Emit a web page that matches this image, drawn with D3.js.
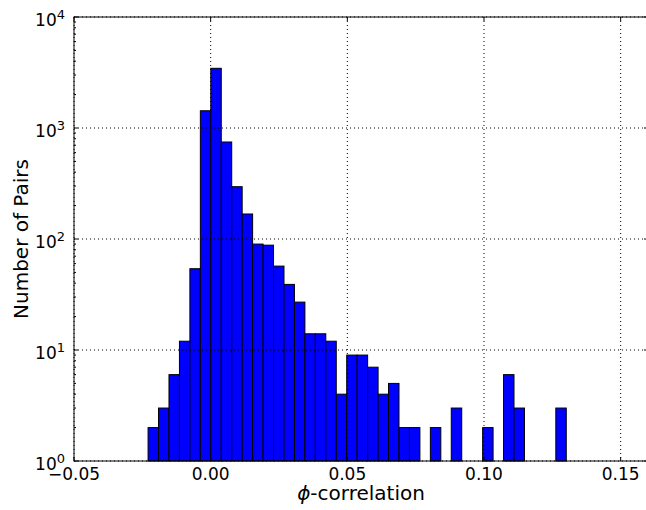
<!DOCTYPE html>
<html>
<head>
<meta charset="utf-8">
<script src="https://cdn.jsdelivr.net/npm/d3@7/dist/d3.min.js"></script>
<style>
  body { margin: 0; background: #fff; }
  text { font-family: "DejaVu Sans", sans-serif; fill: #000; }
</style>
</head>
<body>
<div class="graphContainer"></div>
<script>
// Histogram data: 40 bins between binMin and binMax, counts
const binMin = -0.0229;
const binMax = 0.1301;
const counts = [2, 3, 6, 12, 54, 1430, 3450, 748, 296, 168,
                90, 88, 57, 39, 27, 14, 14, 12, 4, 9,
                9, 7, 4, 5, 2, 2, 0, 2, 0, 3,
                0, 0, 2, 0, 6, 3, 0, 0, 0, 3];
const xTicks = [-0.05, 0.00, 0.05, 0.10, 0.15];
const yExponents = [0, 1, 2, 3, 4];

//Set width, height and plot box
const w = 646;
const h = 510;
const pLeft = 74, pRight = 648, pTop = 17, pBottom = 461;

const svg = d3.select(".graphContainer").append("svg")
  .attr("width", w)
  .attr("height", h);

svg.append("rect").attr("width", w).attr("height", h).attr("fill", "#fff");

// Scales
const xScale = d3.scaleLinear().domain([-0.05, 0.16]).range([pLeft, pRight]);
const yScale = d3.scaleLog().domain([1, 1e4]).range([pBottom, pTop]);

// Bins
const step = (binMax - binMin) / counts.length;
const bins = counts.map((c, i) => ({ x0: binMin + i * step, x1: binMin + (i + 1) * step, n: c }));

svg.append("g")
  .selectAll("rect")
  .data(bins.filter(d => d.n > 0))
  .join("rect")
  .attr("x", d => xScale(d.x0))
  .attr("y", d => yScale(d.n))
  .attr("width", d => xScale(d.x1) - xScale(d.x0))
  .attr("height", d => yScale(1) - yScale(d.n))
  .attr("fill", "#0000ff")
  .attr("stroke", "#000")
  .attr("stroke-width", 1);

// Dotted grid drawn over the bars
const grid = svg.append("g")
  .attr("stroke", "#000")
  .attr("stroke-width", 1)
  .attr("stroke-dasharray", "1,3");

grid.selectAll(".gx")
  .data(xTicks)
  .join("line")
  .attr("x1", d => xScale(d)).attr("x2", d => xScale(d))
  .attr("y1", pTop).attr("y2", pBottom);

grid.selectAll(".gy")
  .data(yExponents.map(e => Math.pow(10, e)))
  .join("line")
  .attr("x1", pLeft).attr("x2", pRight)
  .attr("y1", d => yScale(d)).attr("y2", d => yScale(d));

// Frame
svg.append("rect")
  .attr("x", pLeft).attr("y", pTop)
  .attr("width", pRight - pLeft).attr("height", pBottom - pTop)
  .attr("fill", "none")
  .attr("stroke", "#000")
  .attr("stroke-width", 1);

// Ticks (inward, all four sides)
const ticks = svg.append("g").attr("stroke", "#000").attr("stroke-width", 1);
xTicks.forEach(t => {
  const x = xScale(t);
  ticks.append("line").attr("x1", x).attr("x2", x).attr("y1", pBottom).attr("y2", pBottom - 4);
  ticks.append("line").attr("x1", x).attr("x2", x).attr("y1", pTop).attr("y2", pTop + 4);
});
yExponents.forEach(e => {
  const y = yScale(Math.pow(10, e));
  ticks.append("line").attr("x1", pLeft).attr("x2", pLeft + 4).attr("y1", y).attr("y2", y);
  ticks.append("line").attr("x1", pRight).attr("x2", pRight - 4).attr("y1", y).attr("y2", y);
  if (e < 4) {
    d3.range(2, 10).forEach(k => {
      const ym = yScale(k * Math.pow(10, e));
      ticks.append("line").attr("x1", pLeft).attr("x2", pLeft + 2).attr("y1", ym).attr("y2", ym);
      ticks.append("line").attr("x1", pRight).attr("x2", pRight - 2).attr("y1", ym).attr("y2", ym);
    });
  }
});

// Tick labels
const fmt = d3.format(".2f");
svg.append("g")
  .selectAll("text")
  .data(xTicks)
  .join("text")
  .attr("x", d => xScale(d))
  .attr("y", pBottom + 19)
  .attr("text-anchor", "middle")
  .style("font-size", "17px")
  .text(d => fmt(d).replace("-", "\u2212"));

const yl = svg.append("g")
  .selectAll("text")
  .data(yExponents)
  .join("text")
  .attr("x", pLeft - 9)
  .attr("y", d => yScale(Math.pow(10, d)) + 9)
  .attr("text-anchor", "end")
  .style("font-size", "17px");
yl.append("tspan").text("10");
yl.append("tspan")
  .attr("dy", -7)
  .style("font-size", "13px")
  .text(d => d);

// Axis labels
svg.append("text")
  .attr("x", (pLeft + pRight) / 2)
  .attr("y", 500)
  .attr("text-anchor", "middle")
  .style("font-size", "20px")
  .html('<tspan font-style="italic">\u03d5</tspan>-correlation');

svg.append("text")
  .attr("transform", "translate(28," + ((pTop + pBottom) / 2) + ") rotate(-90)")
  .attr("text-anchor", "middle")
  .style("font-size", "20px")
  .text("Number of Pairs");
</script>
</body>
</html>
